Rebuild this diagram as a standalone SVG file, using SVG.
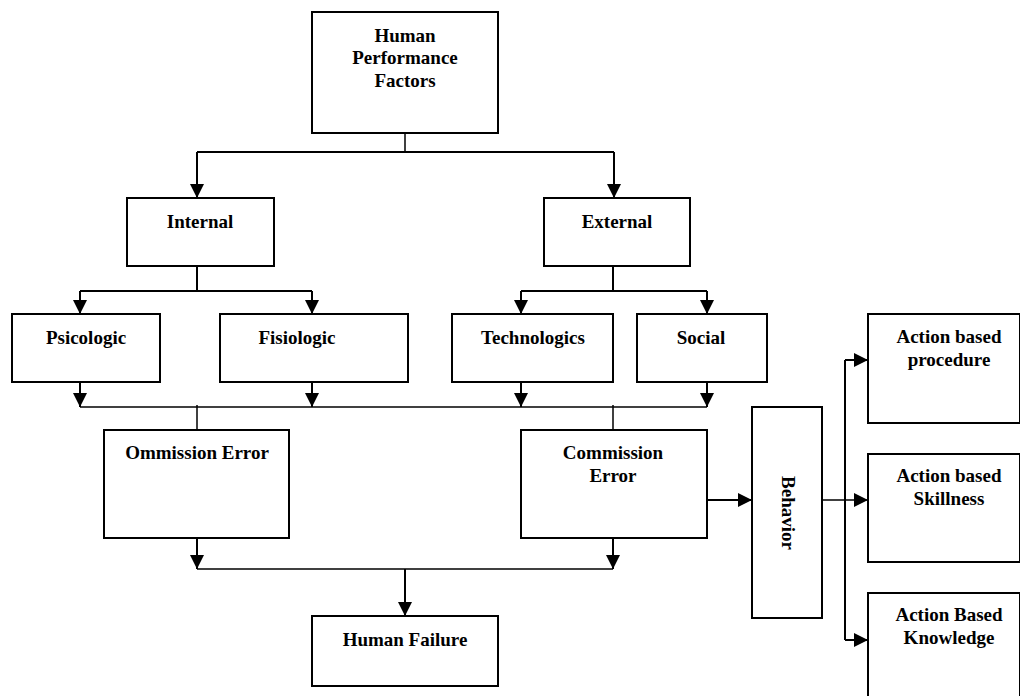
<svg xmlns="http://www.w3.org/2000/svg" width="1020" height="696" viewBox="0 0 1020 696">
<style>
.box{fill:#fff;stroke:#000;stroke-width:2}
.t{font-family:"Liberation Serif","Times New Roman",serif;font-weight:bold;font-size:19px;fill:#000;text-anchor:middle}
.c{fill:none;stroke:#000;stroke-width:2}
.c1{fill:none;stroke:#000;stroke-width:1.5}
</style>
<defs>
<marker id="ah" viewBox="0 0 14 14" refX="14" refY="7" markerWidth="14" markerHeight="14" markerUnits="userSpaceOnUse" orient="auto">
<path d="M0,0 L14,7 L0,14 z" fill="#000"/>
</marker>
</defs>
<g id="connectors">
<path class="c1" d="M405,128 V152"/>
<path class="c" d="M197,152 H614"/>
<path class="c" d="M197,152 V198" marker-end="url(#ah)"/>
<path class="c" d="M614,152 V198" marker-end="url(#ah)"/>
<path class="c" d="M197,266 V291"/>
<path class="c" d="M80,291 H312"/>
<path class="c" d="M80,291 V314" marker-end="url(#ah)"/>
<path class="c" d="M312,291 V314" marker-end="url(#ah)"/>
<path class="c" d="M613,266 V291"/>
<path class="c" d="M521,291 H707"/>
<path class="c" d="M521,291 V314" marker-end="url(#ah)"/>
<path class="c" d="M707,291 V314" marker-end="url(#ah)"/>
<path class="c" d="M80,382 V407" marker-end="url(#ah)"/>
<path class="c" d="M312,382 V407" marker-end="url(#ah)"/>
<path class="c" d="M521,382 V407" marker-end="url(#ah)"/>
<path class="c" d="M707,382 V407" marker-end="url(#ah)"/>
<path class="c1" d="M80,407 H707"/>
<path class="c1" d="M197,405 V430"/>
<path class="c1" d="M613,405 V430"/>
<path class="c" d="M197,538 V569" marker-end="url(#ah)"/>
<path class="c" d="M613,536 V569" marker-end="url(#ah)"/>
<path class="c1" d="M197,569 H613"/>
<path class="c" d="M405,569 V616" marker-end="url(#ah)"/>
<path class="c" d="M707,500 H752" marker-end="url(#ah)"/>
<path class="c1" d="M822,500 H868" marker-end="url(#ah)"/>
<path class="c" d="M845,360 V640"/>
<path class="c" d="M845,360 H868" marker-end="url(#ah)"/>
<path class="c" d="M845,640 H868" marker-end="url(#ah)"/>
</g>
<g id="hpf"><rect class="box" x="312" y="12" width="186" height="121"/>
<text class="t" x="405" y="42">Human</text><text class="t" x="405" y="64">Performance</text><text class="t" x="405" y="87">Factors</text></g>
<g id="internal"><rect class="box" x="127" y="198" width="147" height="68"/><text class="t" x="200" y="228">Internal</text></g>
<g id="external"><rect class="box" x="544" y="198" width="146" height="68"/><text class="t" x="617" y="228">External</text></g>
<g id="psicologic"><rect class="box" x="12" y="314" width="148" height="68"/><text class="t" x="86" y="344">Psicologic</text></g>
<g id="fisiologic"><rect class="box" x="220" y="314" width="188" height="68"/><text class="t" x="297" y="344">Fisiologic</text></g>
<g id="technologics"><rect class="box" x="452" y="314" width="161" height="68"/><text class="t" x="533" y="344">Technologics</text></g>
<g id="social"><rect class="box" x="637" y="314" width="130" height="68"/><text class="t" x="701" y="344">Social</text></g>
<g id="ommission"><rect class="box" x="104" y="430" width="185" height="108"/><text class="t" x="197" y="459">Ommission Error</text></g>
<g id="commission"><rect class="box" x="521" y="430" width="186" height="108"/><text class="t" x="613" y="459">Commission</text><text class="t" x="613" y="482">Error</text></g>
<g id="humanfailure"><rect class="box" x="312" y="616" width="186" height="70"/><text class="t" x="405" y="646">Human Failure</text></g>
<g id="behavior"><rect class="box" x="752" y="407" width="70" height="211"/><text class="t" transform="translate(782,513) rotate(90)" x="0" y="0">Behavior</text></g>
<g id="procedure"><rect class="box" x="868" y="314" width="152" height="109"/><text class="t" x="949" y="343">Action based</text><text class="t" x="949" y="366">procedure</text></g>
<g id="skillness"><rect class="box" x="868" y="454" width="152" height="108"/><text class="t" x="949" y="482">Action based</text><text class="t" x="949" y="505">Skillness</text></g>
<g id="knowledge"><rect class="box" x="868" y="593" width="152" height="120"/><text class="t" x="949" y="621">Action Based</text><text class="t" x="949" y="644">Knowledge</text></g>
</svg>
